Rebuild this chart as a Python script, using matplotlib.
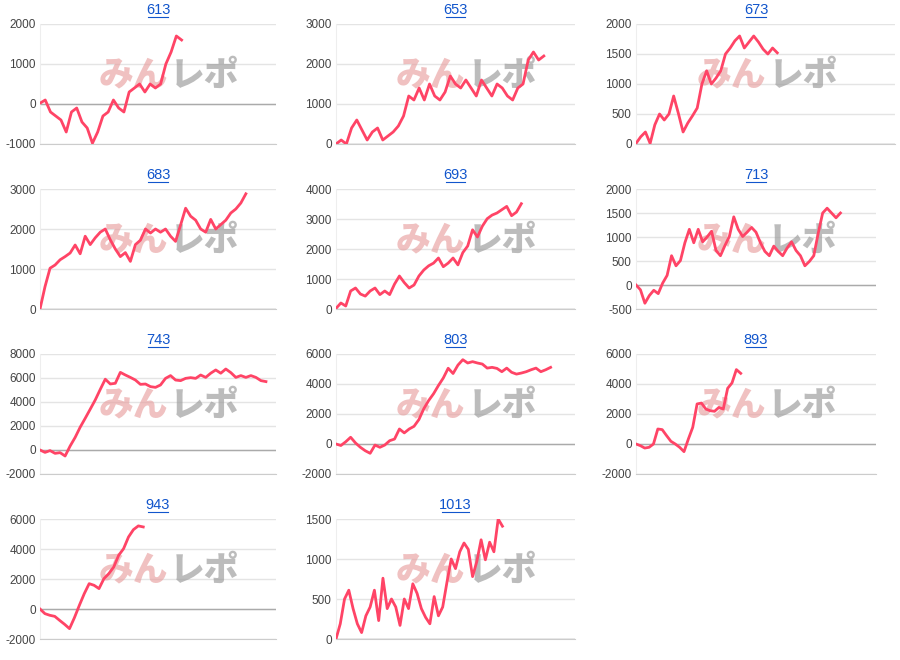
import matplotlib
matplotlib.use("Agg")
import matplotlib.pyplot as plt
import numpy as np

plt.rcParams['font.family'] = ['Liberation Sans', 'DejaVu Sans']
plt.rcParams['axes.unicode_minus'] = False

titles = ["613", "653", "673", "683", "693", "713", "743", "803", "893", "943", "1013"]

s613 = [20, 100, -200, -300, -400, -700, -200, -100, -450, -600, -980, -700, -300, -200,
        100, -100, -200, 300, 400, 500, 300, 500, 400, 500, 1000, 1300, 1700, 1600]
s653 = [0, 100, 0, 400, 600, 350, 100, 300, 400, 100, 200, 300, 450, 700, 1200, 1100, 1400,
        1100, 1500, 1200, 1100, 1300, 1700, 1500, 1400, 1600, 1400, 1200, 1600, 1400, 1200,
        1500, 1400, 1200, 1100, 1400, 1500, 2100, 2300, 2100, 2200]
s673 = [10, 120, 200, 10, 320, 500, 400, 500, 800, 510, 200, 350, 470, 600, 1000, 1220, 1000,
        1100, 1220, 1500, 1600, 1720, 1800, 1600, 1700, 1800, 1700, 1580, 1500, 1600, 1520]
s683 = [0, 560, 1020, 1100, 1230, 1310, 1400, 1600, 1380, 1820, 1610, 1780, 1920, 2000, 1730,
        1500, 1310, 1410, 1190, 1610, 1720, 2000, 1900, 2000, 1920, 2000, 1820, 1690, 2100,
        2520, 2320, 2220, 2000, 1920, 2240, 2000, 2110, 2220, 2400, 2500, 2650, 2880]
s693 = [20, 200, 100, 600, 700, 500, 430, 600, 700, 480, 600, 480, 830, 1100, 880, 700, 800,
        1100, 1300, 1440, 1530, 1700, 1410, 1530, 1700, 1470, 1880, 2100, 2640, 2400, 2760,
        3010, 3130, 3200, 3310, 3420, 3110, 3230, 3510]
s713 = [0, -100, -380, -220, -110, -180, 40, 200, 610, 400, 510, 880, 1160, 880, 1160, 900,
        1000, 1120, 720, 610, 820, 1010, 1420, 1160, 1010, 1100, 1200, 1100, 880, 700, 610,
        810, 700, 610, 770, 900, 720, 610, 400, 490, 610, 1080, 1500, 1600, 1500, 1400, 1500]
s743 = [0, -200, -50, -280, -220, -500, 330, 1050, 1900, 2640, 3400, 4170, 5050, 5900, 5500,
        5560, 6470, 6250, 6050, 5830, 5470, 5500, 5280, 5220, 5420, 5970, 6200, 5830, 5780,
        5970, 6030, 5970, 6250, 6050, 6400, 6670, 6400, 6750, 6450, 6050, 6200, 6050, 6200,
        6050, 5780, 5700]
s803 = [0, -100, 150, 450, 70, -220, -450, -620, -70, -220, -70, 220, 330, 1000, 740, 1000,
        1180, 1630, 2350, 2900, 3350, 3900, 4400, 5050, 4700, 5260, 5620, 5400, 5490, 5400,
        5330, 5060, 5110, 5040, 4820, 5060, 4780, 4660, 4730, 4820, 4950, 5060, 4820, 4950, 5110]
s893 = [0, -110, -270, -220, 0, 1000, 960, 560, 180, 0, -220, -510, 330, 1110, 2670, 2730,
        2330, 2220, 2180, 2440, 2330, 3710, 4070, 4960, 4710]
s943 = [0, -310, -420, -490, -760, -1020, -1310, -580, 240, 1020, 1690, 1580, 1360, 2020,
        2360, 2800, 3580, 4020, 4800, 5290, 5540, 5470]
s1013 = [0, 190, 500, 610, 380, 190, 80, 290, 400, 610, 230, 760, 380, 500, 400, 170, 500,
         380, 690, 570, 380, 270, 190, 530, 290, 400, 710, 1000, 880, 1090, 1200, 1120, 780,
         970, 1240, 990, 1210, 1090, 1500, 1410]
series = [s613, s653, s673, s683, s693, s713, s743, s803, s893, s943, s1013]

y_ranges = [(-1000, 2000, 1000), (0, 3000, 1000), (0, 2000, 500), (0, 3000, 1000),
            (0, 4000, 1000), (-500, 2000, 500), (-2000, 8000, 2000), (-2000, 6000, 2000),
            (-2000, 6000, 2000), (-2000, 6000, 2000), (0, 1500, 500)]
x_max = [45, 46, 55, 47, 49, 54, 47, 49, 55, 48, 56]

W, H = 900, 660
fig = plt.figure(figsize=(9, 6.6), dpi=100)
col_left = [40, 336, 636]
col_right = [276, 575, 876]
row_top = [24, 189, 354, 519]
plot_h = 120

for i, (t, s) in enumerate(zip(titles, series)):
    r, c = divmod(i, 3)
    left = col_left[c]
    right = col_right[c] if i != 2 else 895
    ax = fig.add_axes([left / W, 1 - (row_top[r] + plot_h) / H,
                       (right - left) / W, plot_h / H])
    lo, hi, step = y_ranges[i]
    ax.set_ylim(lo, hi)
    ax.set_xlim(0, x_max[i])
    ax.set_yticks(np.arange(lo, hi + 1, step))
    ax.set_xticks([])
    ax.grid(axis='y', color='#e4e4e4', linewidth=1)
    ax.set_axisbelow(True)
    for sp in ['top', 'right']:
        ax.spines[sp].set_visible(False)
    ax.spines['left'].set_color('#eeeeee')
    ax.spines['bottom'].set_color('#cccccc')
    ax.axhline(0, color='#aaaaaa', linewidth=1, zorder=1)
    ax.tick_params(axis='y', length=0, labelsize=8.5, labelcolor='#444444', pad=3)

    # watermark, behind the line
    cx = (col_left[c] + col_right[c]) / 2
    wx = (cx + 11 - left) / (right - left)
    ax.text(wx - 0.005, 0.575, "みん", transform=ax.transAxes, ha='right', va='center',
            fontsize=25, fontweight='heavy', style='italic', color='#e8a0a0', alpha=0.65,
            family=['Noto Sans CJK JP'], zorder=2)
    ax.text(wx + 0.005, 0.575, "レポ", transform=ax.transAxes, ha='left', va='center',
            fontsize=25, fontweight='heavy', style='italic', color='#999999', alpha=0.65,
            family=['Noto Sans CJK JP'], zorder=2)
    ax.plot(range(len(s)), s, color='#ff4466', linewidth=2, zorder=3)

    fig.text(cx / W, 1 - (row_top[r] - 14) / H, t, ha='center', va='center',
             fontsize=10.5, color='#1155cc')
    # underline
    tw = 6.6 * len(t)
    fig.add_artist(plt.Line2D([(cx - tw / 2) / W, (cx + tw / 2) / W],
                              [1 - (row_top[r] - 7) / H] * 2, color='#1155cc', linewidth=0.8))

fig.savefig("out.png", dpi=100)
